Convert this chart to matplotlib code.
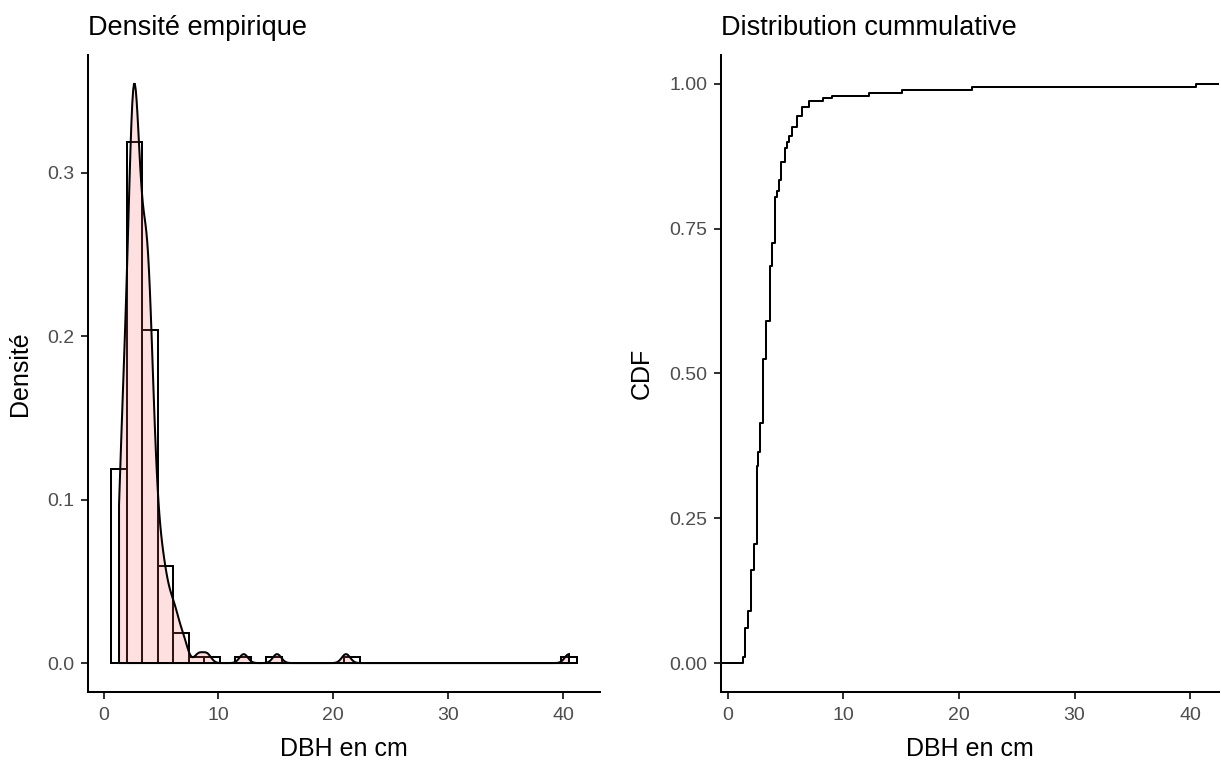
import numpy as np
import matplotlib.pyplot as plt

dbh_values = [1.35, 1.50, 1.78, 1.99, 2.30, 2.52, 2.59, 2.79, 3.02, 3.29,
              3.66, 3.80, 4.09, 4.24, 4.44, 4.58, 4.96, 5.16, 5.33, 5.53,
              5.97, 6.45, 7.03, 8.27, 9.00, 12.2, 15.1, 21.1, 40.5]
dbh_counts = [2, 10, 6, 14, 9, 27, 5, 10, 22, 13,
              19, 8, 16, 2, 4, 6, 5, 2, 2, 3,
              4, 3, 2, 1, 1, 1, 1, 1, 1]

left_title = "Densité empirique"
right_title = "Distribution cummulative"
x_label = "DBH en cm"
x_ticks = [0, 10, 20, 30, 40]
dens_ticks = [0.0, 0.1, 0.2, 0.3]
cdf_ticks = [0.00, 0.25, 0.50, 0.75, 1.00]

plt.rcParams['font.family'] = ['Liberation Sans', 'DejaVu Sans']

dbh = np.repeat(dbh_values, dbh_counts)
n = len(dbh)
lo, hi = dbh.min(), dbh.max()

# bins like ggplot (30 bins)
width = (hi - lo) / 29
origin = width / 2 + np.floor((lo - width / 2) / width) * width
edges = np.arange(origin, hi + width * (1 - 1e-8), width)

# gaussian kde, nrd0 bandwidth
q1, q3 = np.percentile(dbh, [25, 75])
bw = 0.9 * min(dbh.std(ddof=1), (q3 - q1) / 1.34) * n ** -0.2
xs = np.linspace(lo, hi, 512)
dens = np.exp(-0.5 * ((xs[:, None] - dbh[None, :]) / bw) ** 2).sum(axis=1)
dens = dens / (n * bw * np.sqrt(2 * np.pi))

fig = plt.figure(figsize=(12.21, 7.61), dpi=100)
ax1 = fig.add_axes([88 / 1221, 69 / 761, 512 / 1221, 637 / 761])
ax2 = fig.add_axes([720.7 / 1221, 69 / 761, 497.8 / 1221, 637 / 761])

lw = 1.45

# left: histogram + density
ax1.hist(dbh, bins=edges, density=True, facecolor='white',
         edgecolor='black', linewidth=lw)
ax1.fill(np.r_[xs[0], xs, xs[-1]], np.r_[0, dens, 0],
         facecolor=(1, 0.4, 0.4, 0.2), edgecolor='black', linewidth=lw)
ax1.use_sticky_edges = False
ax1.margins(0.05)
ax1.set_yticks(dens_ticks)
ax1.set_yticklabels([f"{t:.1f}" for t in dens_ticks])
ax1.set_ylabel("Densité", fontsize=18, labelpad=11)
ax1.set_title(left_title, loc='left', fontsize=19.5, pad=14.5)

# right: ECDF
ux = np.array(dbh_values)
F = np.cumsum(dbh_counts) / n
x_lo = lo - 0.05 * (hi - lo)
x_hi = hi + 0.05 * (hi - lo)
ax2.step(np.r_[x_lo, ux, x_hi], np.r_[0, F, 1], where='post',
         color='black', linewidth=lw)
ax2.set_xlim(x_lo, x_hi)
ax2.set_ylim(-0.05, 1.05)
ax2.set_yticks(cdf_ticks)
ax2.set_yticklabels([f"{t:.2f}" for t in cdf_ticks])
ax2.set_ylabel("CDF", fontsize=18, labelpad=11)
ax2.set_title(right_title, loc='left', fontsize=19.5, pad=14.5)

for ax in (ax1, ax2):
    ax.set_xticks(x_ticks)
    ax.set_xlabel(x_label, fontsize=18, labelpad=9)
    for s in ('top', 'right'):
        ax.spines[s].set_visible(False)
    for s in ('left', 'bottom'):
        ax.spines[s].set_linewidth(lw)
    ax.tick_params(direction='out', length=4.8, width=lw, color='#333333',
                   labelcolor='#4D4D4D', labelsize=14)
    ax.tick_params(axis='x', pad=6)
    ax.tick_params(axis='y', pad=5)

fig.savefig("out.png", dpi=100)
